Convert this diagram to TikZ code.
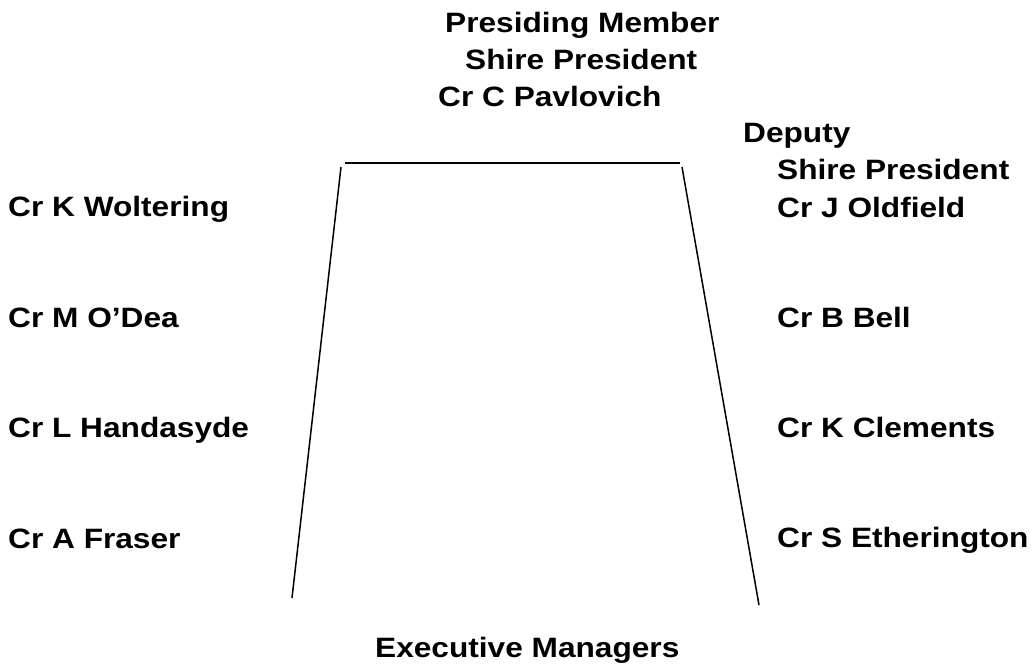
\documentclass[tikz,border=0pt]{standalone}
\usepackage{fontspec}
\newfontfamily\seatfont[FakeStretch=1.13]{Liberation Sans}

\begin{document}
\begin{tikzpicture}[x=1pt,y=-1pt,
  seat/.style={anchor=base west,inner sep=0pt,font=\seatfont\bfseries\fontsize{28}{37}\selectfont},
  tableline/.style={line width=1.5pt}]
\useasboundingbox (0,0) rectangle (1034,666);
%\draw[gray] (0,0) rectangle (1034,666);
\node[seat] (member) at (445,33) {Presiding Member};
\node[seat] (president) at (465,70) {Shire President};
\node[seat] (pavlovich) at (438,107) {Cr C Pavlovich};
\node[seat] (deputy) at (743,143) {Deputy};
\node[seat] (deputypres) at (777,180) {Shire President};
\foreach \n/\y/\t in {woltering/216/Cr K Woltering, odea/327/{Cr M O’Dea}, handasyde/437/Cr L Handasyde, fraser/548/Cr A Fraser}
  \node[seat] (\n) at (8,\y) {\t};
\foreach \n/\y/\t in {oldfield/217/Cr J Oldfield, bell/327/Cr B Bell, clements/437/Cr K Clements, etherington/547/Cr S Etherington}
  \node[seat] (\n) at (777,\y) {\t};
\node[seat] (managers) at (375,657) {Executive Managers};
% table
\draw[tableline] (345,163) -- (680,163);
\draw[tableline] (341,167) -- (292,598);
\draw[tableline] (682,167) -- (759,605);
\end{tikzpicture}
\end{document}
